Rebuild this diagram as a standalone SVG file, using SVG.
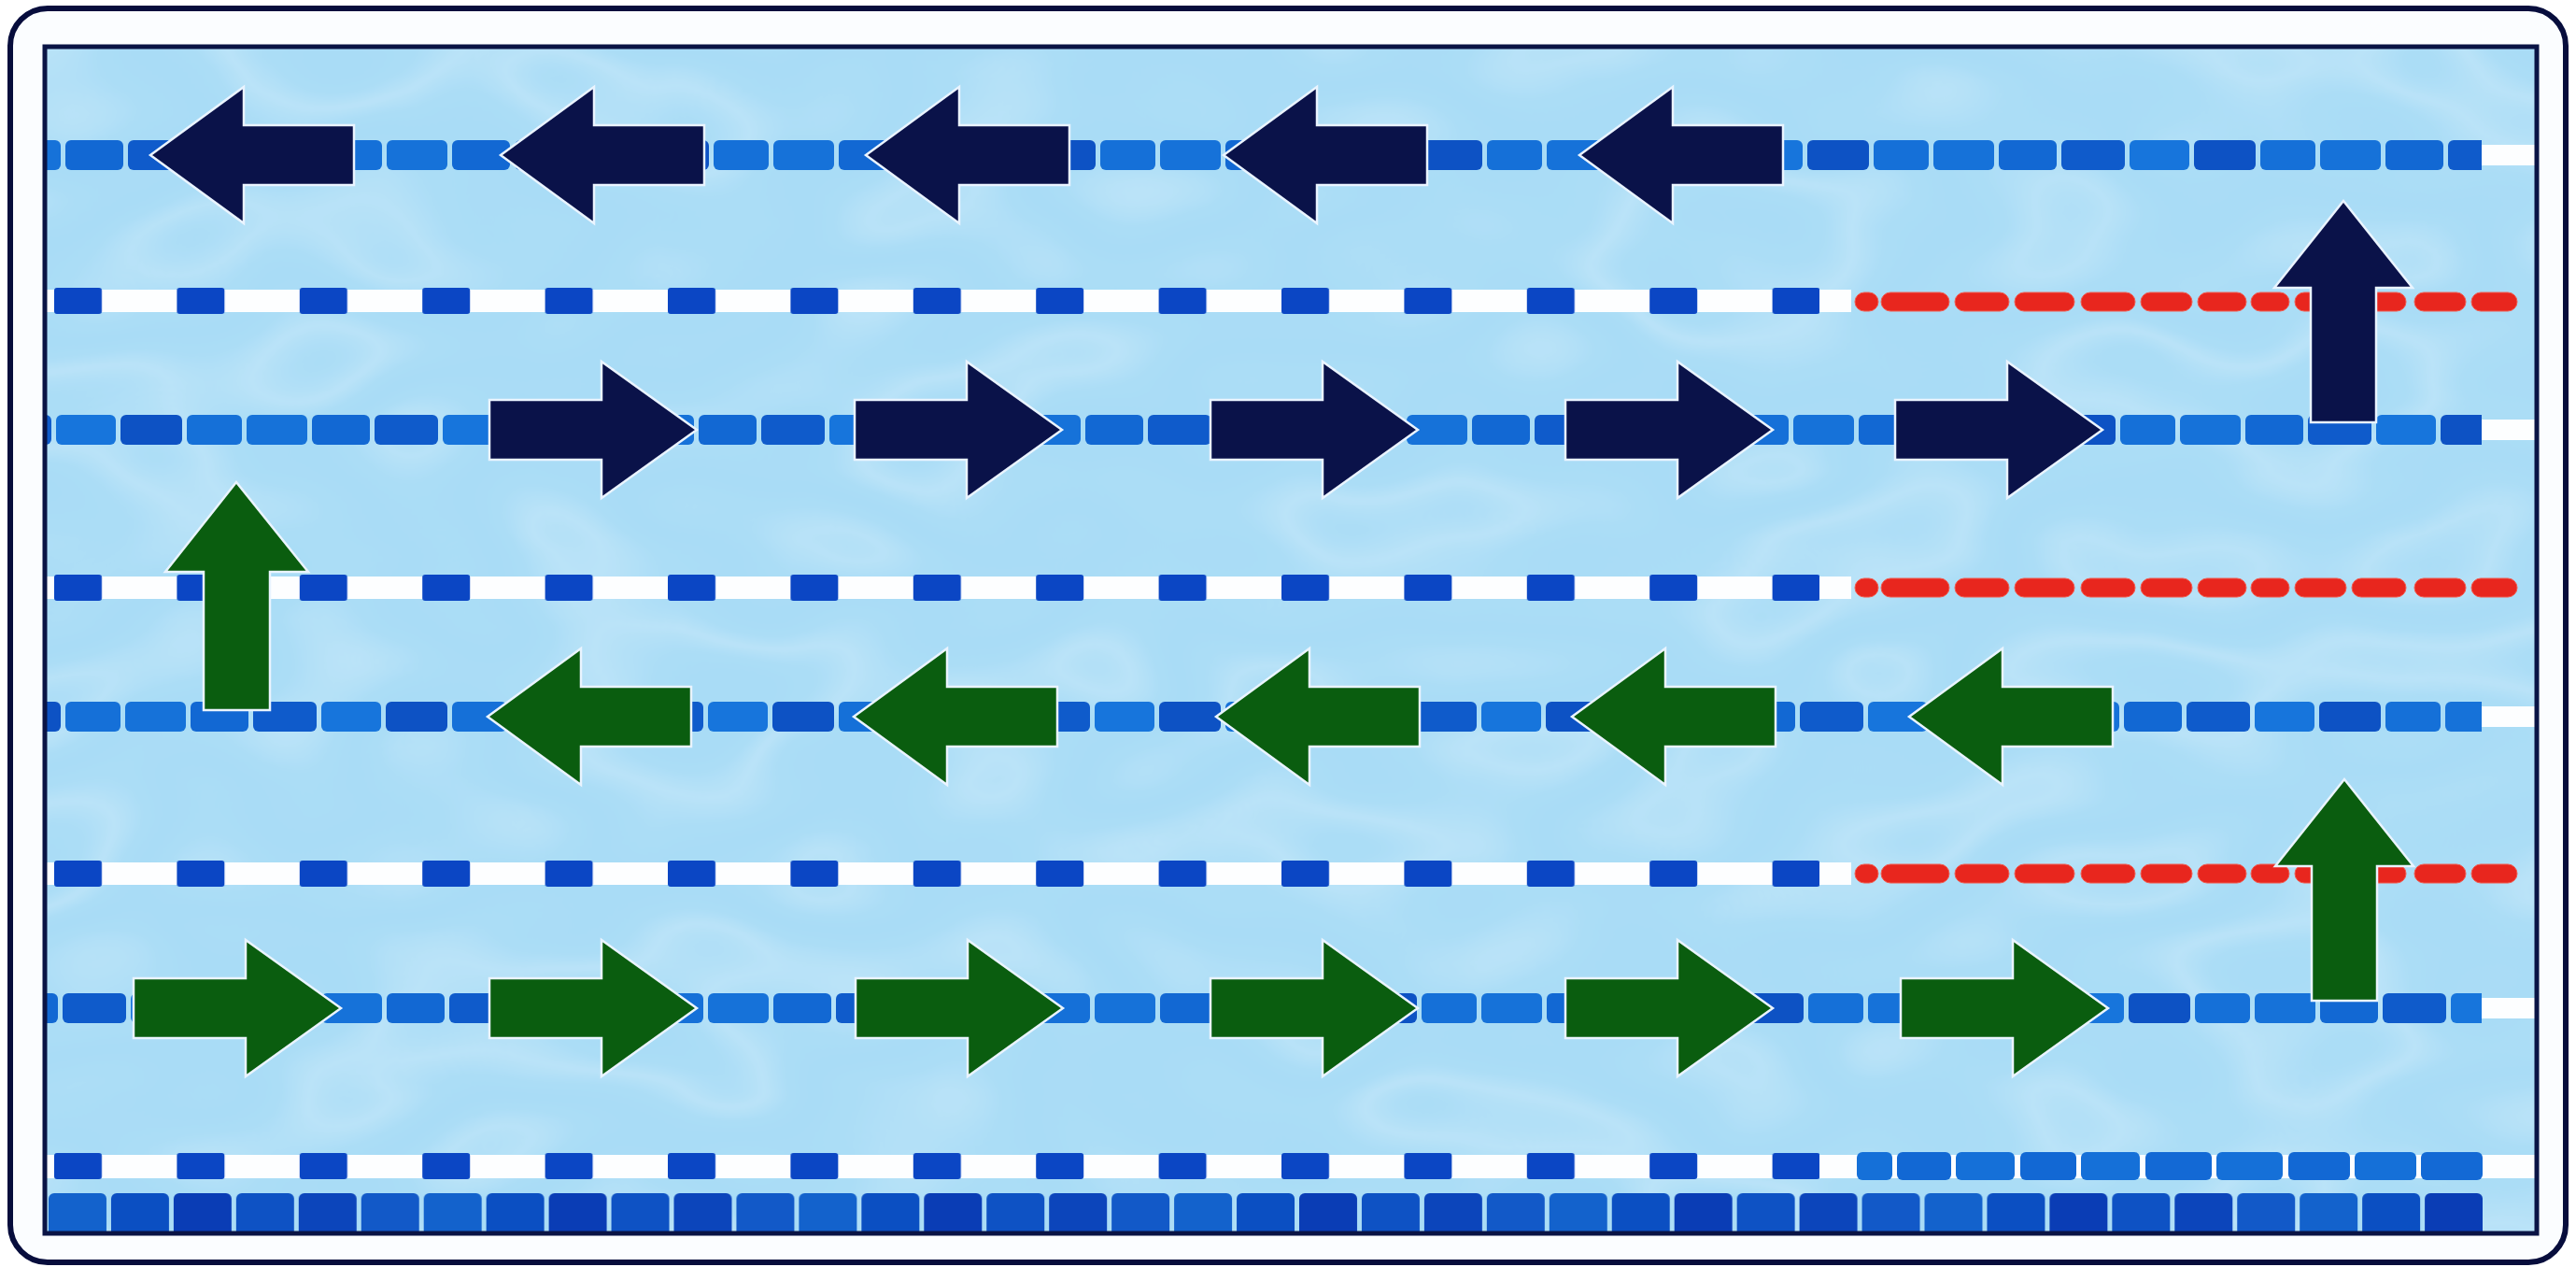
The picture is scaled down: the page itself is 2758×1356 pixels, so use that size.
<svg xmlns="http://www.w3.org/2000/svg" xmlns:xlink="http://www.w3.org/1999/xlink" width="2758" height="1356" viewBox="0 0 2758 1356">
  <style>
    .frame { fill: #fbfdff; stroke: #070d3c; stroke-width: 6; }
    .pool-edge { fill: none; stroke: #0a1445; stroke-width: 5; }
    .water { fill: #a9dcf6; }
    .band { fill: #fdfeff; }
    .mark { fill: #0b46c4; }
    .red { fill: #e8261e; stroke: #f25a4e; stroke-width: 1; }
    .navy { fill: #0a1249; stroke: #eaf4ff; stroke-width: 2.5; stroke-linejoin: miter; }
    .green { fill: #0a5d0f; stroke: #eaf4ff; stroke-width: 2.5; stroke-linejoin: miter; }
  </style>
  <defs>
    <!-- float segments of a lane rope -->
    <pattern id="rope" width="414" height="32" patternUnits="userSpaceOnUse">
      <rect x="0" y="0" width="65" height="32" rx="6" fill="#1672d9"/>
      <rect x="70" y="0" width="62" height="32" rx="6" fill="#1268d3"/>
      <rect x="137" y="0" width="68" height="32" rx="6" fill="#0f5bcb"/>
      <rect x="210" y="0" width="64" height="32" rx="6" fill="#1775dc"/>
      <rect x="279" y="0" width="66" height="32" rx="6" fill="#0d52c4"/>
      <rect x="350" y="0" width="59" height="32" rx="6" fill="#1570d8"/>
    </pattern>
    <!-- square markers along the white lines -->
    <pattern id="marks" width="131.4" height="28" patternUnits="userSpaceOnUse">
      <rect x="0" y="0" width="51" height="28" rx="3" class="mark"/>
    </pattern>
    <!-- gutter tiles along the bottom wall -->
    <pattern id="tiles" width="401.7" height="44" patternUnits="userSpaceOnUse">
      <rect x="0" y="0" width="62" height="52" rx="6" fill="#1362cc"/>
      <rect x="66.95" y="0" width="62" height="52" rx="6" fill="#0b4fc2"/>
      <rect x="133.9" y="0" width="62" height="52" rx="6" fill="#0a3db5"/>
      <rect x="200.85" y="0" width="62" height="52" rx="6" fill="#0e52c4"/>
      <rect x="267.8" y="0" width="62" height="52" rx="6" fill="#0c45bb"/>
      <rect x="334.75" y="0" width="62" height="52" rx="6" fill="#1259c8"/>
    </pattern>
    <!-- red end section of the white lines -->
    <g id="redRope">
      <rect x="1986" y="-10" width="25" height="20" rx="10" class="red"/>
      <rect x="2014" y="-10" width="73" height="20" rx="10" class="red"/>
      <rect x="2093" y="-10" width="58" height="20" rx="10" class="red"/>
      <rect x="2157" y="-10" width="64" height="20" rx="10" class="red"/>
      <rect x="2228" y="-10" width="58" height="20" rx="10" class="red"/>
      <rect x="2292" y="-10" width="55" height="20" rx="10" class="red"/>
      <rect x="2353" y="-10" width="52" height="20" rx="10" class="red"/>
      <rect x="2410" y="-10" width="41" height="20" rx="10" class="red"/>
      <rect x="2457" y="-10" width="55" height="20" rx="10" class="red"/>
      <rect x="2518" y="-10" width="58" height="20" rx="10" class="red"/>
      <rect x="2585" y="-10" width="55" height="20" rx="10" class="red"/>
      <rect x="2646" y="-10" width="49" height="20" rx="10" class="red"/>
    </g>
    <!-- block arrows, local origin at the tip (left) or tail (right) on the centre line -->
    <path id="arrowLeft" d="M0,0 L100,-73 V-32 H218 V32 H100 V73 Z"/>
    <path id="arrowRight" d="M0,-32 H120 V-73 L222,0 L120,73 V32 H0 Z"/>
    <!-- rippled light on the pool floor -->
    <filter id="caustics" x="0" y="0" width="1" height="1">
      <feTurbulence type="fractalNoise" baseFrequency="0.0035 0.006" numOctaves="2" seed="11" result="noise"/>
      <feColorMatrix in="noise" type="matrix" values="0 0 0 0 1  0 0 0 0 1  0 0 0 0 1  1 0 0 0 0" result="lum"/>
      <feComponentTransfer in="lum">
        <feFuncA type="table" tableValues="0 0 0 0.03 0.2 0.03 0 0.03 0.18 0.03 0 0"/>
      </feComponentTransfer>
      <feGaussianBlur stdDeviation="1.5"/>
    </filter>
    <filter id="shade" x="0" y="0" width="1" height="1">
      <feTurbulence type="fractalNoise" baseFrequency="0.004 0.006" numOctaves="2" seed="4" result="noise"/>
      <feColorMatrix in="noise" type="matrix" values="0 0 0 0 0.5  0 0 0 0 0.76  0 0 0 0 0.94  0 0 0 0 0" result="tint"/>
      <feColorMatrix in="noise" type="matrix" values="0 0 0 0 0  0 0 0 0 0  0 0 0 0 0  0 1 0 0 0" result="a"/>
      <feComponentTransfer in="a" result="mask">
        <feFuncA type="discrete" tableValues="0 0 0 0.22 0.22 0 0"/>
      </feComponentTransfer>
      <feComposite in="tint" in2="mask" operator="in"/>
      <feGaussianBlur stdDeviation="3"/>
    </filter>
    <clipPath id="poolClip">
      <rect x="48" y="50" width="2668" height="1270"/>
    </clipPath>
  </defs>

  <!-- outer white frame -->
  <g id="frame">
    <rect x="11" y="9" width="2736" height="1342" rx="40" class="frame"/>
  </g>

  <!-- pool surface -->
  <g id="pool" clip-path="url(#poolClip)">
    <rect x="48" y="50" width="2668" height="1270" class="water"/>
    <rect x="48" y="50" width="2668" height="1270" fill="#ffffff" filter="url(#shade)"/>
    <rect x="48" y="50" width="2668" height="1270" fill="#ffffff" filter="url(#caustics)"/>
  </g>

  <!-- lane ropes and lines -->
  <g id="lanes" clip-path="url(#poolClip)">
    <g id="rope1">
      <rect x="2630" y="155" width="90" height="22" class="band"/>
      <g transform="translate(0,150)"><rect x="48" y="0" width="2609" height="32" fill="url(#rope)"/></g>
    </g>
    <g id="line2">
      <rect x="48" y="310" width="1934" height="24" class="band"/>
      <g transform="translate(58,308)"><rect x="-10" y="0" width="1900" height="28" fill="url(#marks)"/></g>
      <use xlink:href="#redRope" href="#redRope" transform="translate(0,323)"/>
    </g>
    <g id="rope3">
      <rect x="2630" y="449" width="90" height="22" class="band"/>
      <g transform="translate(-150,444)"><rect x="198" y="0" width="2609" height="32" fill="url(#rope)"/></g>
    </g>
    <g id="line4">
      <rect x="48" y="617" width="1934" height="24" class="band"/>
      <g transform="translate(58,615)"><rect x="-10" y="0" width="1900" height="28" fill="url(#marks)"/></g>
      <use xlink:href="#redRope" href="#redRope" transform="translate(0,629)"/>
    </g>
    <g id="rope5">
      <rect x="2630" y="756" width="90" height="22" class="band"/>
      <g transform="translate(-280,751)"><rect x="328" y="0" width="2609" height="32" fill="url(#rope)"/></g>
    </g>
    <g id="line6">
      <rect x="48" y="923" width="1934" height="24" class="band"/>
      <g transform="translate(58,921)"><rect x="-10" y="0" width="1900" height="28" fill="url(#marks)"/></g>
      <use xlink:href="#redRope" href="#redRope" transform="translate(0,935)"/>
    </g>
    <g id="rope7">
      <rect x="2630" y="1068" width="90" height="22" class="band"/>
      <g transform="translate(-70,1063)"><rect x="118" y="0" width="2609" height="32" fill="url(#rope)"/></g>
    </g>
    <g id="line8">
      <rect x="48" y="1236" width="2670" height="25" class="band"/>
      <g transform="translate(58,1234)"><rect x="-10" y="0" width="1900" height="28" fill="url(#marks)"/></g>
      <g fill="#1570d8">
        <rect x="1988" y="1233" width="38" height="30" rx="6"/>
        <rect x="2031" y="1233" width="58" height="30" rx="6" fill="#1268d4"/>
        <rect x="2094" y="1233" width="63" height="30" rx="6"/>
        <rect x="2163" y="1233" width="60" height="30" rx="6" fill="#1268d4"/>
        <rect x="2228" y="1233" width="63" height="30" rx="6"/>
        <rect x="2297" y="1233" width="71" height="30" rx="6" fill="#1369d5"/>
        <rect x="2373" y="1233" width="71" height="30" rx="6"/>
        <rect x="2450" y="1233" width="66" height="30" rx="6" fill="#1268d4"/>
        <rect x="2521" y="1233" width="66" height="30" rx="6"/>
        <rect x="2592" y="1233" width="66" height="30" rx="6" fill="#1369d5"/>
      </g>
    </g>
    <g id="gutter">
      <g transform="translate(52,1277)"><rect x="0" y="0" width="2606" height="44" fill="url(#tiles)"/></g>
    </g>
  </g>

  <!-- swim path arrows -->
  <g id="arrows">
    <g id="lane1-arrows" class="navy">
      <use id="n1" xlink:href="#arrowLeft" href="#arrowLeft" transform="translate(161,166)"/>
      <use id="n2" xlink:href="#arrowLeft" href="#arrowLeft" transform="translate(536,166)"/>
      <use id="n3" xlink:href="#arrowLeft" href="#arrowLeft" transform="translate(927,166)"/>
      <use id="n4" xlink:href="#arrowLeft" href="#arrowLeft" transform="translate(1310,166)"/>
      <use id="n5" xlink:href="#arrowLeft" href="#arrowLeft" transform="translate(1691,166)"/>
    </g>
    <g id="turn1" class="navy">
      <path d="M2509,215 L2583,308 H2544 V452 H2474 V308 H2435 Z"/>
    </g>
    <g id="lane2-arrows" class="navy">
      <use id="n6" xlink:href="#arrowRight" href="#arrowRight" transform="translate(524,460)"/>
      <use id="n7" xlink:href="#arrowRight" href="#arrowRight" transform="translate(915,460)"/>
      <use id="n8" xlink:href="#arrowRight" href="#arrowRight" transform="translate(1296,460)"/>
      <use id="n9" xlink:href="#arrowRight" href="#arrowRight" transform="translate(1676,460)"/>
      <use id="n10" xlink:href="#arrowRight" href="#arrowRight" transform="translate(2029,460)"/>
    </g>
    <g id="turn2" class="green">
      <path d="M253,516 L330,612 H289 V760 H218 V612 H177 Z"/>
    </g>
    <g id="lane3-arrows" class="green">
      <use id="g1" xlink:href="#arrowLeft" href="#arrowLeft" transform="translate(522,767)"/>
      <use id="g2" xlink:href="#arrowLeft" href="#arrowLeft" transform="translate(914,767)"/>
      <use id="g3" xlink:href="#arrowLeft" href="#arrowLeft" transform="translate(1302,767)"/>
      <use id="g4" xlink:href="#arrowLeft" href="#arrowLeft" transform="translate(1683,767)"/>
      <use id="g5" xlink:href="#arrowLeft" href="#arrowLeft" transform="translate(2044,767)"/>
    </g>
    <g id="turn3" class="green">
      <path d="M2510,834 L2584,927 H2545 V1071 H2475 V927 H2436 Z"/>
    </g>
    <g id="lane4-arrows" class="green">
      <use id="g6" xlink:href="#arrowRight" href="#arrowRight" transform="translate(143,1079)"/>
      <use id="g7" xlink:href="#arrowRight" href="#arrowRight" transform="translate(524,1079)"/>
      <use id="g8" xlink:href="#arrowRight" href="#arrowRight" transform="translate(916,1079)"/>
      <use id="g9" xlink:href="#arrowRight" href="#arrowRight" transform="translate(1296,1079)"/>
      <use id="g10" xlink:href="#arrowRight" href="#arrowRight" transform="translate(1676,1079)"/>
      <use id="g11" xlink:href="#arrowRight" href="#arrowRight" transform="translate(2035,1079)"/>
    </g>
  </g>

  <!-- pool edge -->
  <rect x="48" y="50" width="2668" height="1270" class="pool-edge"/>
</svg>
